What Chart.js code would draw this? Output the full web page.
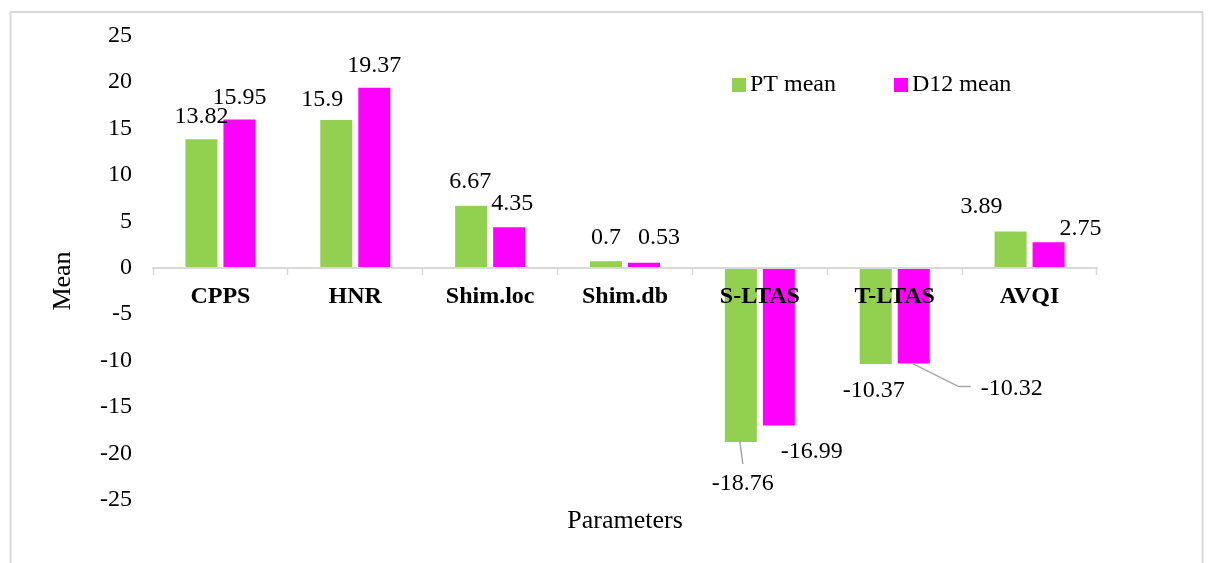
<!DOCTYPE html>
<html>
<head>
<meta charset="utf-8">
<title>PT vs D12 mean</title>
<script src="https://cdn.jsdelivr.net/npm/chart.js@4.4.1/dist/chart.umd.min.js"></script>
<style>
  html, body { margin: 0; padding: 0; background: #ffffff; }
  #wrap { width: 1210px; height: 563px; position: relative; }
  canvas { display: block; }
</style>
</head>
<body>
<div id="wrap"><canvas id="chart" width="1210" height="563"></canvas></div>
<script>
// ---- data ----
const categories = ['CPPS', 'HNR', 'Shim.loc', 'Shim.db', 'S-LTAS', 'T-LTAS', 'AVQI'];
const seriesNames = ['PT mean', 'D12 mean'];
const ptMean = [13.82, 15.9, 6.67, 0.7, -18.76, -10.37, 3.89];
const d12Mean = [15.95, 19.37, 4.35, 0.53, -16.99, -10.32, 2.75];
const yTicks = [-25, -20, -15, -10, -5, 0, 5, 10, 15, 20, 25];
const axisTitles = { x: 'Parameters', y: 'Mean' };

// value-label nudges [dx, dy] away from the default spot, and leader-line style
const ptLabelShift = [[0, 0], [-14, 3], [-1, -1], [0, 0], [2, 16], [-2, 1], [-29, -2]];
const d12LabelShift = [[0, 1], [0, 1], [3, -1], [15, -2], [33, 0], [98, -1], [32, 10]];
const ptLeader = [null, null, null, null, 'drop', null, null];
const d12Leader = [null, null, null, null, null, 'elbow', null];

// ---- styling ----
const SERIF = '"Liberation Serif", "Times New Roman", Times, serif';
const FS = 24;
const TITLE_FS = 26;
const GREEN = '#92d050';
const MAGENTA = '#ff00ff';
const LINE_GREY = '#d9d9d9';
const LEADER_GREY = '#a6a6a6';

Chart.defaults.font.family = SERIF;
Chart.defaults.color = '#000000';

// outer frame around the whole chart
const frame = {
  id: 'frame',
  beforeDraw(chart) {
    const ctx = chart.ctx;
    ctx.save();
    ctx.fillStyle = '#ffffff';
    ctx.fillRect(0, 0, chart.width, chart.height);
    ctx.strokeStyle = LINE_GREY;
    ctx.lineWidth = 2;
    ctx.strokeRect(10.5, 12, 1192, 700);
    ctx.restore();
  }
};

// value labels above / below each bar, with optional leader lines
const valueLabels = {
  id: 'valueLabels',
  afterDraw(chart) {
    const ctx = chart.ctx;
    ctx.save();
    ctx.font = `${FS}px ${SERIF}`;
    ctx.textAlign = 'center';
    ctx.textBaseline = 'middle';
    chart.data.datasets.forEach((ds, di) => {
      const meta = chart.getDatasetMeta(di);
      meta.data.forEach((bar, i) => {
        const v = ds.data[i];
        const [dx, dy] = ds.labelShift[i];
        const x = bar.x + dx;
        const y = v >= 0 ? bar.y - 23 + dy : bar.y + 26 + dy;
        const text = String(v);
        const w = ctx.measureText(text).width;
        const leader = ds.leader[i];
        if (leader) {
          ctx.strokeStyle = LEADER_GREY;
          ctx.lineWidth = 1.5;
          ctx.beginPath();
          ctx.moveTo(bar.x - 1, bar.y);
          if (leader === 'drop') {
            ctx.lineTo(x, y - 20);
          } else {
            const left = x - w / 2;
            ctx.lineTo(left - 22, y - 2);
            ctx.lineTo(left - 10, y - 2);
          }
          ctx.stroke();
        }
        ctx.fillStyle = '#000000';
        ctx.fillText(text, x, y);
      });
    });
    ctx.restore();
  }
};

// legend placed inside the plot, top right
const insideLegend = {
  id: 'insideLegend',
  afterDraw(chart) {
    const ctx = chart.ctx;
    ctx.save();
    ctx.font = `${FS}px ${SERIF}`;
    ctx.textAlign = 'left';
    ctx.textBaseline = 'middle';
    let x = 732;
    const y = 85;
    chart.data.datasets.forEach(ds => {
      ctx.fillStyle = ds.backgroundColor;
      ctx.fillRect(x, y - 7, 14, 14);
      ctx.fillStyle = '#000000';
      ctx.fillText(ds.label, x + 18, y);
      x += 18 + ctx.measureText(ds.label).width + 58;
    });
    ctx.restore();
  }
};

// axis titles
const axisTitleText = {
  id: 'axisTitleText',
  afterDraw(chart) {
    const ctx = chart.ctx;
    const area = chart.chartArea;
    ctx.save();
    ctx.font = `${TITLE_FS}px ${SERIF}`;
    ctx.fillStyle = '#000000';
    ctx.textAlign = 'center';
    ctx.textBaseline = 'middle';
    ctx.fillText(axisTitles.x, (area.left + area.right) / 2, 521);
    ctx.translate(63, 281);
    ctx.rotate(-Math.PI / 2);
    ctx.fillText(axisTitles.y, 0, 0);
    ctx.restore();
  }
};

new Chart(document.getElementById('chart'), {
  type: 'bar',
  data: {
    labels: categories,
    datasets: [
      {
        label: seriesNames[0],
        data: ptMean,
        backgroundColor: GREEN,
        labelShift: ptLabelShift,
        leader: ptLeader
      },
      {
        label: seriesNames[1],
        data: d12Mean,
        backgroundColor: MAGENTA,
        labelShift: d12LabelShift,
        leader: d12Leader
      }
    ]
  },
  options: {
    responsive: false,
    animation: false,
    devicePixelRatio: 1,
    categoryPercentage: 0.5636,
    barPercentage: 0.842,
    layout: { padding: { left: 20, right: 113, top: 35, bottom: 63 } },
    plugins: {
      legend: { display: false },
      tooltip: { enabled: false },
      title: { display: false }
    },
    scales: {
      x: {
        position: { y: 0 },
        offset: true,
        grid: {
          display: true,
          offset: true,
          drawOnChartArea: false,
          drawTicks: true,
          tickLength: 6,
          tickWidth: 1.5,
          tickColor: LINE_GREY
        },
        border: { display: true, color: LINE_GREY, width: 2, z: 1 },
        ticks: {
          z: 2,
          padding: 9,
          maxRotation: 0,
          autoSkip: false,
          color: '#000000',
          font: { family: SERIF, size: FS, weight: 'bold' }
        }
      },
      y: {
        min: yTicks[0],
        max: yTicks[yTicks.length - 1],
        afterBuildTicks(scale) {
          scale.ticks = yTicks.map(v => ({ value: v }));
        },
        afterFit(scale) { scale.width = 133; },
        grid: { display: false, drawTicks: false },
        border: { display: false },
        ticks: {
          padding: 21,
          color: '#000000',
          font: { family: SERIF, size: FS },
          callback: v => String(v)
        }
      }
    }
  },
  plugins: [frame, valueLabels, insideLegend, axisTitleText]
});
</script>
</body>
</html>
